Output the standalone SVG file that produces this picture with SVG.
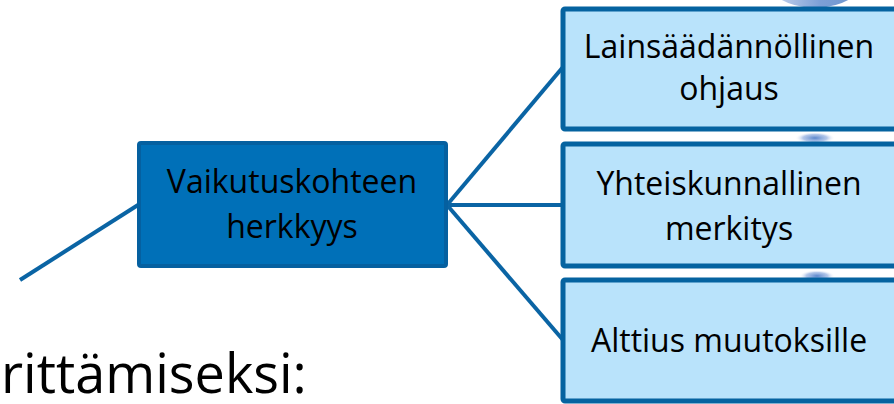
<svg xmlns="http://www.w3.org/2000/svg" width="894" height="404" viewBox="0 0 894 404">
<defs>
<linearGradient id="sphere" x1="0" y1="0" x2="1" y2="0">
<stop offset="0" stop-color="#dbe3f4"/>
<stop offset="0.55" stop-color="#7c9fd6"/>
<stop offset="1" stop-color="#6a93cc"/>
</linearGradient>
<radialGradient id="blob" cx="0.5" cy="0.5" r="0.5">
<stop offset="0" stop-color="#5a86cc"/>
<stop offset="0.6" stop-color="#93afe0" stop-opacity="0.7"/>
<stop offset="1" stop-color="#ffffff" stop-opacity="0"/>
</radialGradient>
</defs>
<style>
.dark{fill:#0070b8;stroke:#0560a0;stroke-width:4}
.light{fill:#b9e3fb;stroke:#0563a0;stroke-width:5}
.t{font-family:"Open Sans","Liberation Sans",sans-serif;fill:#000;text-anchor:middle;font-size:32px}
.conn{stroke:#0a64a4;stroke-width:4;fill:none}
</style>
<g id="background">
<ellipse cx="815" cy="-30" rx="54" ry="38" fill="url(#sphere)"/>
<ellipse cx="815" cy="138" rx="20" ry="6" fill="url(#blob)"/>
<ellipse cx="817" cy="276" rx="18" ry="6" fill="url(#blob)"/>
</g>
<g id="connectors">
<line class="conn" x1="20" y1="280" x2="138" y2="205"/>
<line class="conn" x1="447" y1="205" x2="563" y2="67"/>
<line class="conn" x1="447" y1="205" x2="563" y2="205"/>
<line class="conn" x1="447" y1="205" x2="563" y2="340"/>
</g>
<g id="node-center">
<rect class="dark" x="139" y="143" width="307" height="123" rx="2"/>
<text class="t" x="292" y="193">Vaikutuskohteen</text>
<text class="t" x="292" y="238">herkkyys</text>
</g>
<g id="node-lainsaadannollinen">
<rect class="light" x="563" y="9" width="340" height="120" rx="2"/>
<text class="t" x="729" y="58">Lainsäädännöllinen</text>
<text class="t" x="729" y="100">ohjaus</text>
</g>
<g id="node-yhteiskunnallinen">
<rect class="light" x="563" y="144" width="340" height="122" rx="2"/>
<text class="t" x="729" y="195">Yhteiskunnallinen</text>
<text class="t" x="729" y="240">merkitys</text>
</g>
<g id="node-alttius">
<rect class="light" x="563" y="280" width="340" height="121" rx="2"/>
<text class="t" x="729" y="352">Alttius muutoksille</text>
</g>
<text x="1" y="393" font-family="'Open Sans','Liberation Sans',sans-serif" font-size="54" fill="#000">rittämiseksi:</text>
</svg>
